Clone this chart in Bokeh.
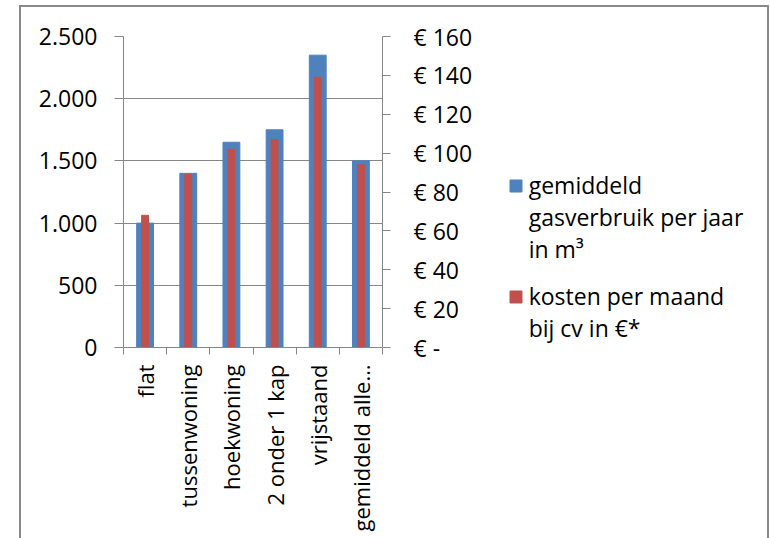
from bokeh.plotting import figure
from bokeh.models import (Range1d, LinearAxis, FixedTicker, Legend, LegendItem,
                          InlineStyleSheet)
from bokeh.embed import file_html
from bokeh.resources import INLINE
import math

categories = ["flat", "tussenwoning", "hoekwoning", "2 onder 1 kap", "vrijstaand", "gemiddeld alle…"]
gas = [1000, 1400, 1650, 1750, 2350, 1500]
kosten = [68, 89, 102, 107, 139, 94]
left_ticks = [0, 500, 1000, 1500, 2000, 2500]
left_labels = ["0", "500", "1.000", "1.500", "2.000", "2.500"]
right_ticks = [0, 20, 40, 60, 80, 100, 120, 140, 160]
right_labels = ["€ -", "€ 20", "€ 40", "€ 60", "€ 80", "€ 100", "€ 120", "€ 140", "€ 160"]
legend_lines_gas = ["gemiddeld", "gasverbruik per jaar", "in m³"]
legend_lines_cost = ["kosten per maand", "bij cv in €*"]

FONT = "Open Sans"
FS = "23px"
GRAY = "#868686"
BLUE = "#4F81BD"
RED = "#C0504D"

n = len(categories)
xs = [i + 0.5 for i in range(n)]

p = figure(frame_width=259, frame_height=311, output_backend="svg", toolbar_location=None,
           x_range=Range1d(0, n), y_range=Range1d(0, 2500),
           min_border_left=123, min_border_right=388, min_border_top=36, min_border_bottom=191,
           x_axis_location=None, y_axis_location=None)
p.outline_line_color = None
p.background_fill_color = "white"
p.border_fill_color = "white"
p.extra_y_ranges = {"eur": Range1d(0, 160)}

r1 = p.vbar(x=xs, top=gas, width=0.39, color=BLUE)
r2 = p.vbar(x=xs, top=kosten, width=0.16, color=RED, y_range_name="eur")
# empty renderer: gives legend rows without a swatch (continuation lines)
r_blank = p.vbar(x=[], top=[], width=0.1, fill_alpha=0, line_alpha=0)

# left axis
ly = LinearAxis(ticker=FixedTicker(ticks=left_ticks),
                major_label_overrides={t: l for t, l in zip(left_ticks, left_labels)})
ly.axis_line_color = GRAY
ly.major_tick_line_color = GRAY
ly.major_tick_out = 9
ly.major_tick_in = 0
ly.minor_tick_line_color = None
ly.major_label_text_font = FONT
ly.major_label_text_font_size = FS
ly.major_label_text_color = "black"
ly.major_label_standoff = 17
p.add_layout(ly, "left")

# right axis
ry = LinearAxis(y_range_name="eur", ticker=FixedTicker(ticks=right_ticks),
                major_label_overrides={t: l for t, l in zip(right_ticks, right_labels)})
ry.axis_line_color = GRAY
ry.major_tick_line_color = GRAY
ry.major_tick_out = 8
ry.major_tick_in = 0
ry.minor_tick_line_color = None
ry.major_label_text_font = FONT
ry.major_label_text_font_size = FS
ry.major_label_text_color = "black"
ry.major_label_standoff = 23
p.add_layout(ry, "right")

# bottom axis: labels at centres, ticks at category boundaries
bx = LinearAxis(ticker=FixedTicker(ticks=xs, minor_ticks=list(range(n + 1))),
                major_label_overrides={x: c for x, c in zip(xs, categories)})
bx.axis_line_color = GRAY
bx.major_tick_line_color = None
bx.minor_tick_line_color = GRAY
bx.minor_tick_out = 7
bx.minor_tick_in = 0
bx.major_label_orientation = math.pi / 2
bx.major_label_text_font = FONT
bx.major_label_text_font_size = "22px"
bx.major_label_text_color = "black"
bx.major_label_standoff = 10
p.add_layout(bx, "below")

p.xgrid.visible = False
p.ygrid.ticker = FixedTicker(ticks=left_ticks)
p.ygrid.grid_line_color = GRAY
p.ygrid.grid_line_width = 1

items = [LegendItem(label=legend_lines_gas[0], renderers=[r1])]
items += [LegendItem(label=t, renderers=[r_blank]) for t in legend_lines_gas[1:]]
items += [LegendItem(label="", renderers=[r_blank])]
items += [LegendItem(label=legend_lines_cost[0], renderers=[r2])]
items += [LegendItem(label=t, renderers=[r_blank]) for t in legend_lines_cost[1:]]

legend = Legend(items=items, location=(-210, 3))
legend.background_fill_alpha = 0
legend.border_line_color = None
legend.label_text_font = FONT
legend.label_text_font_size = FS
legend.label_text_color = "black"
legend.label_text_line_height = 1.39
legend.label_height = 10
legend.glyph_width = 15
legend.glyph_height = 15
legend.label_standoff = 6
legend.spacing = 0
legend.margin = 0
legend.padding = 0
p.add_layout(legend, "right")

p.stylesheets = [InlineStyleSheet(css="""
:host::after {
  content: "";
  position: absolute;
  left: 19px;
  top: 5px;
  width: 750px;
  height: 533px;
  box-sizing: border-box;
  border: 2px solid #898989;
  border-bottom: none;
  pointer-events: none;
}
""")]

open("out.html", "w").write(file_html(p, INLINE))
